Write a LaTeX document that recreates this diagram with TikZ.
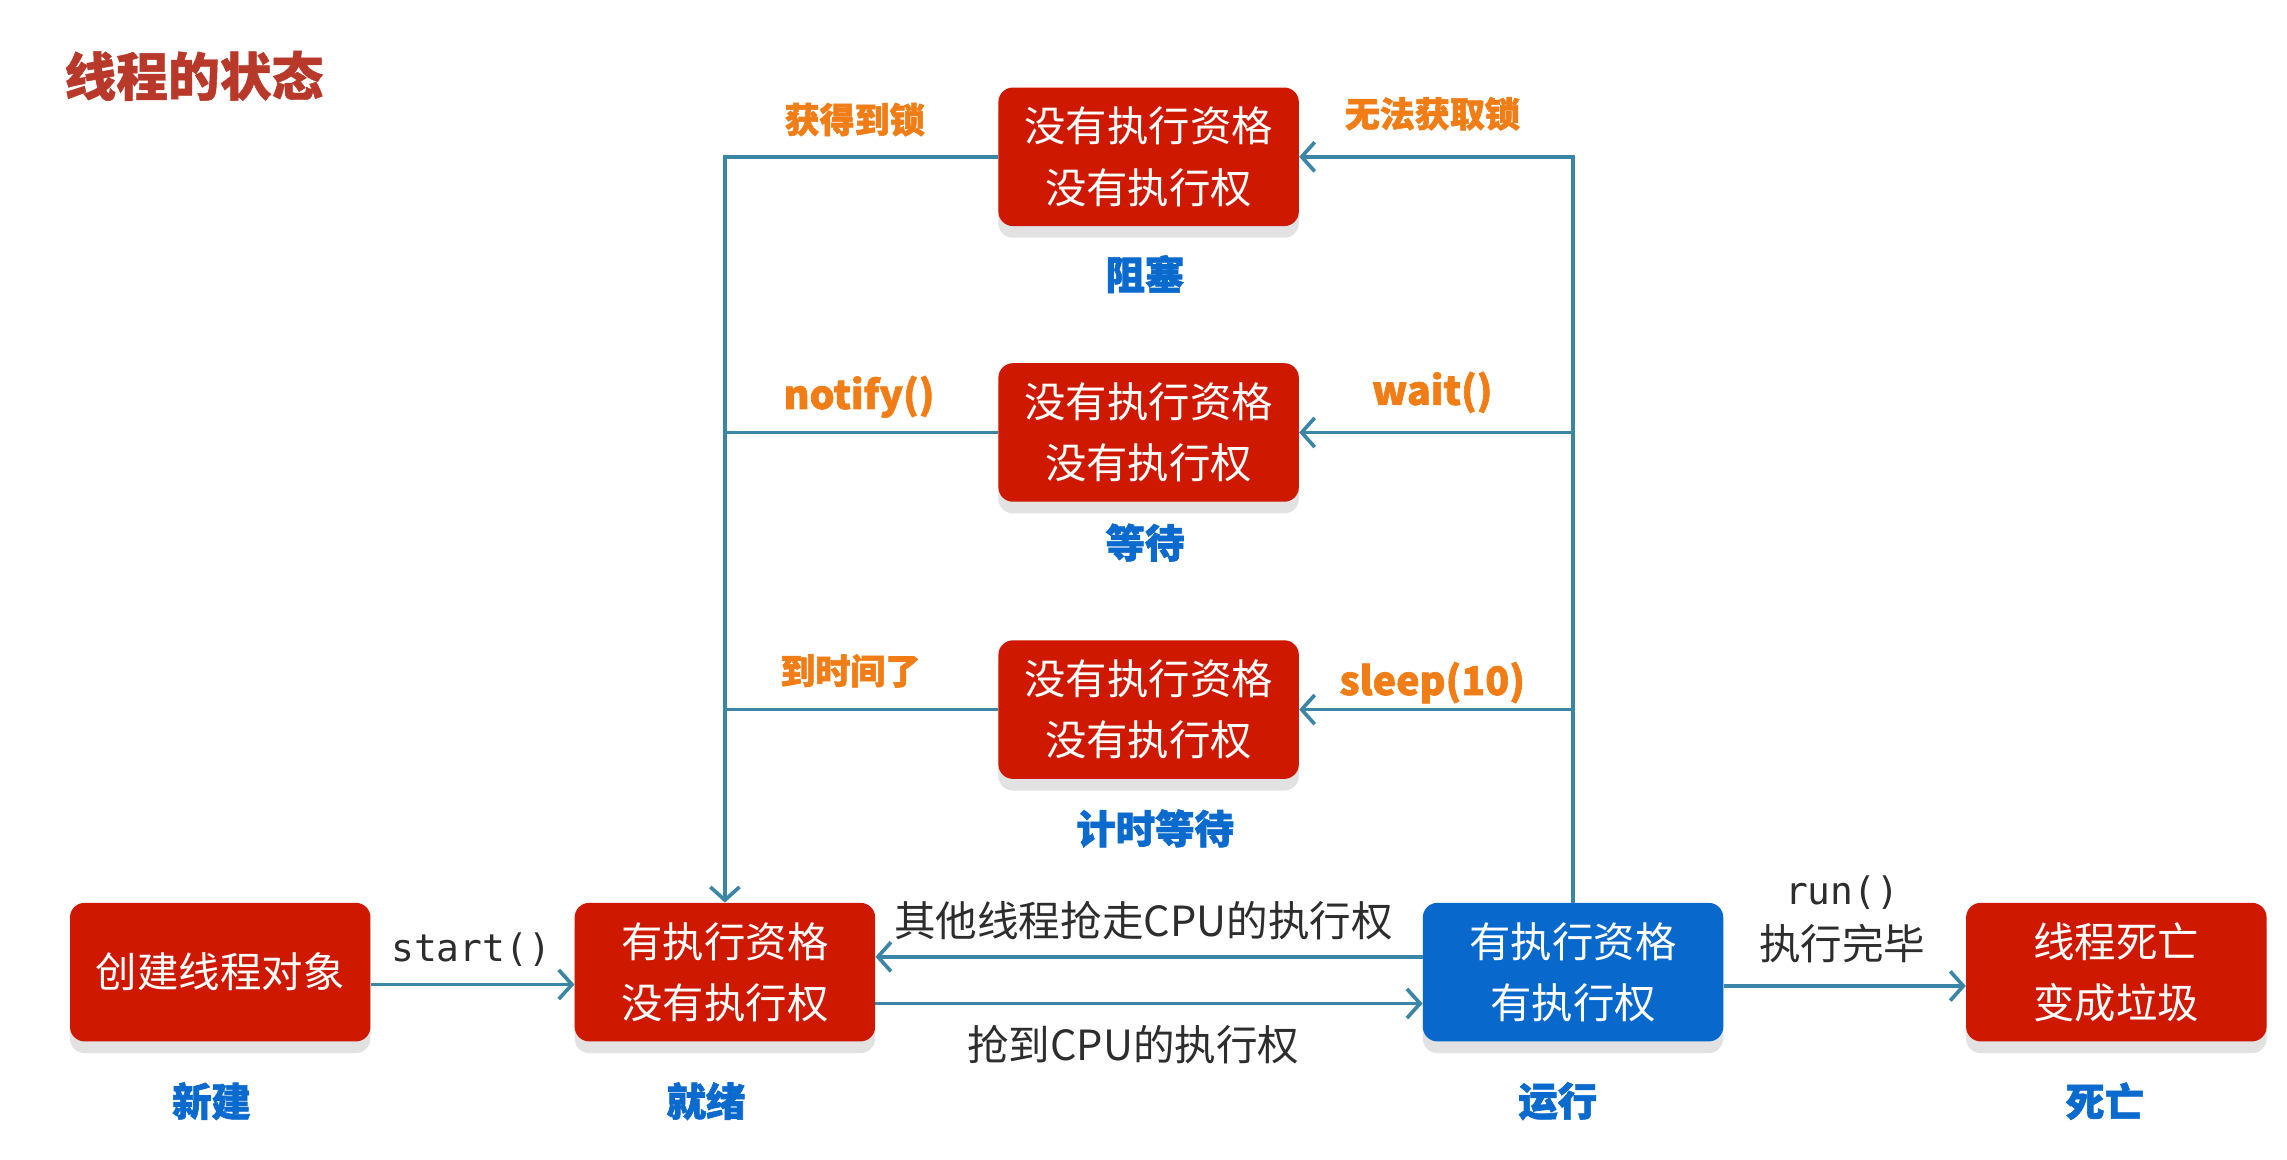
\documentclass[tikz,border=0pt]{standalone}
\usepackage{fontspec}
\setmainfont{Noto Sans CJK SC}
\newfontfamily\cjk{Noto Sans CJK SC}
\newfontfamily\heavycjk[FakeBold=1.6]{Noto Sans CJK SC}
\newfontfamily\medcjk[FakeBold=0.9]{Noto Sans CJK SC}
\newfontfamily\monofnt{DejaVu Sans Mono}
\usetikzlibrary{arrows.meta,shadows,calc}
\definecolor{boxred}{RGB}{206,24,0}
\definecolor{boxblue}{RGB}{8,104,204}
\definecolor{lblblue}{RGB}{10,106,205}
\definecolor{lblorange}{RGB}{240,125,22}
\definecolor{titlered}{RGB}{184,56,42}
\definecolor{linecol}{RGB}{59,134,166}
\definecolor{shadowgray}{RGB}{226,226,226}
\definecolor{txtgray}{RGB}{45,45,45}
\begin{document}
\begin{tikzpicture}[x=1pt,y=-1pt,
  statebox/.style={draw=none, fill=boxred, rounded corners=10pt, minimum width=206pt,
    minimum height=95pt, text=white, font=\fontsize{28.4}{42}\selectfont, align=center,
    inner sep=0pt, drop shadow={shadow xshift=0pt,shadow yshift=-8pt,fill=shadowgray,opacity=1}},
  runbox/.style={statebox, fill=boxblue},
  statelbl/.style={text=lblblue, font=\fontsize{27}{30}\selectfont\heavycjk\bfseries, inner sep=0pt},
  translbl/.style={text=lblorange, font=\fontsize{24}{28}\selectfont\heavycjk\bfseries, inner sep=0pt},
  plainlbl/.style={text=txtgray, font=\fontsize{28.5}{34}\selectfont, inner sep=0pt, align=center},
  conn/.style={draw=linecol, line width=2.5pt},
  arr/.style={conn, -{Straight Barb[length=9pt,width=20pt,line width=2.5pt]}}
]
\useasboundingbox[fill=white] (0,0) rectangle (1568,795);

% title
\node[text=titlered, font=\fontsize{35.5}{38}\selectfont\medcjk\bfseries, anchor=west, inner sep=0pt] (title) at (44,52) {线程的状态};

% state boxes
\node[statebox] (blocked) at (787.5,107.5) {没有执行资格\\没有执行权};
\node[statebox] (waiting) at (787.5,296.5) {没有执行资格\\没有执行权};
\node[statebox] (timed)   at (787.5,486.5) {没有执行资格\\没有执行权};
\node[statebox] (newb)    at (151,666.5)   {创建线程对象};
\node[statebox] (ready)   at (497,666.5)   {有执行资格\\没有执行权};
\node[runbox]   (running) at (1078.5,666.5){有执行资格\\有执行权};
\node[statebox] (dead)    at (1451,666.5)  {线程死亡\\变成垃圾};

% state labels
\node[statelbl] (lblocked) at (785,188) {阻塞};
\node[statelbl] (lwaiting) at (785,372) {等待};
\node[statelbl] (ltimed)   at (792,568) {计时等待};
\node[statelbl] (lnew)     at (145,755) {新建};
\node[statelbl] (lready)   at (484,755) {就绪};
\node[statelbl] (lrun)     at (1068,755) {运行};
\node[statelbl] (ldead)    at (1443,755) {死亡};

% left return lines
\draw[arr] (blocked.west) -| (ready.north);
\draw[conn] (waiting.west) -- (waiting.west -| ready.north);
\draw[conn] (timed.west) -- (timed.west -| ready.north);

% right lines from running
\draw[arr] (running.north) |- (blocked.east);
\draw[arr] (running.north |- waiting.east) -- (waiting.east);
\draw[arr] (running.north |- timed.east) -- (timed.east);

% bottom arrows
\draw[arr] ([yshift=-8.5pt]newb.east) -- ([yshift=-8.5pt]ready.west);
\draw[arr] ([yshift=-21.5pt]ready.east) -- ([yshift=-21.5pt]running.west);
\draw[arr] ([yshift=10.5pt]running.west) -- ([yshift=10.5pt]ready.east);
\draw[arr] ([yshift=-9.5pt]running.east) -- ([yshift=-9.5pt]dead.west);

% transition labels
\node[translbl] (tlock)   at (586,82)  {获得到锁};
\node[translbl] (tnolock) at (982,78)  {无法获取锁};
\node[translbl, font=\fontsize{27}{30}\selectfont\heavycjk\bfseries] (tnotify) at (589,272) {notify()};
\node[translbl, font=\fontsize{27}{30}\selectfont\heavycjk\bfseries] (twait)   at (982,269) {wait()};
\node[translbl] (ttime)   at (583,460) {到时间了};
\node[translbl, font=\fontsize{27}{30}\selectfont\heavycjk\bfseries] (tsleep)  at (982,468) {sleep(10)};

\node[plainlbl, font=\fontsize{26}{30}\monofnt] (tstart) at (323,651) {start()};
\node[plainlbl] (tsteal) at (784,631) {其他线程抢走CPU的执行权};
\node[plainlbl] (tgrab)  at (777,716) {抢到CPU的执行权};
\node[plainlbl, font=\fontsize{26}{30}\monofnt] (trun) at (1263,612) {run()};
\node[plainlbl] (tdone)  at (1263,647) {执行完毕};
\end{tikzpicture}
\end{document}
